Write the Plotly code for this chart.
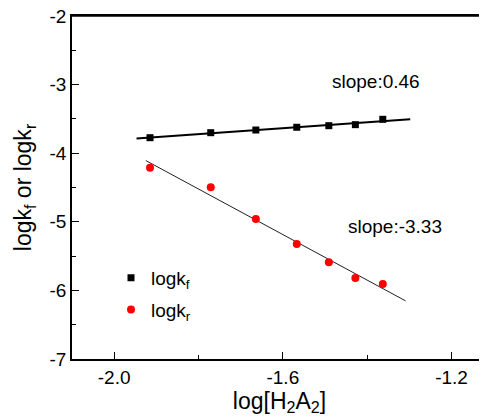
import numpy as np
import plotly.graph_objects as go

# Data
log_h2a2 = [-1.915, -1.771, -1.664, -1.567, -1.491, -1.428, -1.363]
logk_f = [-3.774, -3.701, -3.662, -3.622, -3.599, -3.584, -3.506]
logk_r = [-4.211, -4.497, -4.959, -5.324, -5.590, -5.819, -5.907]

# x-extent of the drawn fit lines
fit_f_x = [-1.947, -1.298]
fit_r_x = [-1.925, -1.309]

x_tickvals = [-2.0, -1.6, -1.2]
x_ticktext = ["-2.0", "-1.6", "-1.2"]
y_tickvals = [-7, -6, -5, -4, -3, -2]
y_ticktext = ["-7", "-6", "-5", "-4", "-3", "-2"]

slope_labels = ["slope:0.46", "slope:-3.33"]
slope_pos = [(-1.38, -2.958), (-1.334, -5.071)]

FONT = "Arial, Liberation Sans, sans-serif"
FS = 19

pf = np.polyfit(log_h2a2, logk_f, 1)
pr = np.polyfit(log_h2a2, logk_r, 1)

fig = go.Figure()
fig.add_trace(go.Scatter(x=fit_f_x, y=np.polyval(pf, fit_f_x), mode="lines",
                         line=dict(color="black", width=2), showlegend=False, hoverinfo="skip"))
fig.add_trace(go.Scatter(x=fit_r_x, y=np.polyval(pr, fit_r_x), mode="lines",
                         line=dict(color="#222222", width=1), showlegend=False, hoverinfo="skip"))
fig.add_trace(go.Scatter(x=log_h2a2, y=logk_f, mode="markers", name="logk<sub>f</sub>",
                         marker=dict(symbol="square", size=7, color="black"), legendgroup="f"))
fig.add_trace(go.Scatter(x=log_h2a2, y=logk_r, mode="markers", name="logk<sub>r</sub>",
                         marker=dict(symbol="circle", size=8, color="red"), legendgroup="r"))

for txt, (ax, ay) in zip(slope_labels, slope_pos):
    fig.add_annotation(x=ax, y=ay, text=txt, showarrow=False,
                       font=dict(size=FS, color="black", family=FONT))

# top frame line
fig.add_shape(type="line", xref="paper", yref="paper", x0=0, x1=1, y0=1, y1=1,
              line=dict(color="black", width=1.5))

# page body has an 8px margin, so the figure is 479x412 and offset by 8px
fig.update_layout(
    width=479, height=412,
    margin=dict(l=64, r=0, t=8, b=61, autoexpand=False),
    paper_bgcolor="white", plot_bgcolor="white",
    font=dict(family=FONT, size=FS, color="black"),
    legend=dict(x=0.094, y=0.292, xanchor="left", yanchor="top",
                bgcolor="rgba(0,0,0,0)", font=dict(size=FS), tracegroupgap=4),
)
fig.update_xaxes(
    range=[-2.1, -2.1 + 415 / 421.7], showgrid=False, zeroline=False, automargin=False,
    showline=True, linecolor="black", linewidth=1.5, mirror=True,
    ticks="inside", ticklen=7, tickwidth=1.2, tickcolor="black",
    tickvals=x_tickvals, ticktext=x_ticktext, ticklabeloverflow="allow",
    minor=dict(dtick=0.2, tick0=-2.0, ticks="inside", ticklen=4, tickcolor="black", tickwidth=1),
    title=dict(text="log[H<sub>2</sub>A<sub>2</sub>]", standoff=3),
)
fig.update_yaxes(
    range=[-7, -2], showgrid=False, zeroline=False, automargin=False,
    showline=True, linecolor="black", linewidth=1.5,
    ticks="inside", ticklen=7, tickwidth=1.2, tickcolor="black",
    tickvals=y_tickvals, ticktext=y_ticktext, ticklabeloverflow="allow",
    minor=dict(dtick=0.5, tick0=-7, ticks="inside", ticklen=4, tickcolor="black", tickwidth=1),
    title=dict(text="logk<sub>f</sub> or logk<sub>r</sub>", standoff=11),
)

fig.write_html("out.html")
